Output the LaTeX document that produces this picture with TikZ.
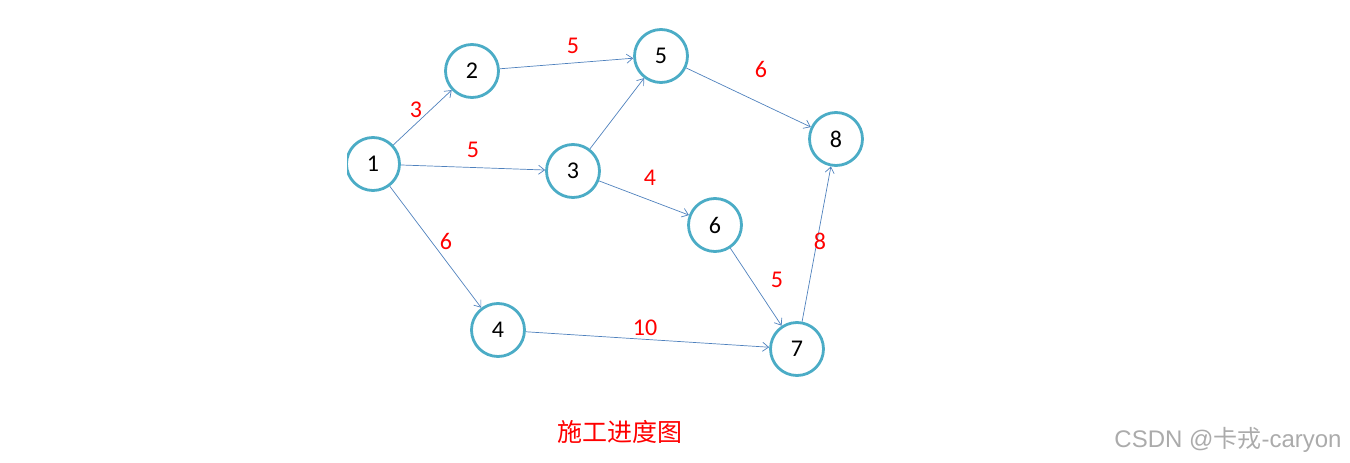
\documentclass[tikz,border=0pt]{standalone}
\usepackage{fontspec}
\setmainfont{Carlito}
\newfontfamily\cjkfont{Noto Sans CJK SC}
\newfontfamily\wmfont{Liberation Sans}
\usetikzlibrary{arrows.meta}
\definecolor{ringc}{RGB}{75,172,198}
\definecolor{edgec}{RGB}{79,129,189}
\begin{document}
\begin{tikzpicture}[x=1pt,y=-1pt,
  vtx/.style={circle,draw=ringc,line width=2.8pt,minimum size=53pt,inner sep=0pt,fill=white,font=\fontsize{24}{24}\selectfont},
  edg/.style={draw=edgec,line width=0.7pt,-{Straight Barb[length=6pt,width=9pt,line width=0.7pt]}},
  wt/.style={text=red,font=\fontsize{24}{24}\selectfont,inner sep=0pt}]
\useasboundingbox (0,0) rectangle (1350,463);
\begin{scope}
\clip (347,100) rectangle (420,230);
\node[vtx] (n1) at (373,164) {1};
\end{scope}
\node[vtx] (n2) at (472,71) {2};
\node[vtx] (n5) at (661,56) {5};
\node[vtx] (n3) at (573,171) {3};
\node[vtx] (n8) at (836,139) {8};
\node[vtx] (n6) at (715,225) {6};
\node[vtx] (n4) at (498,330) {4};
\node[vtx] (n7) at (797,349) {7};
\draw[edg] (n1) -- (n2);
\draw[edg] (n1) -- (n3);
\draw[edg] (n1) -- (n4);
\draw[edg] (n2) -- (n5);
\draw[edg] (n3) -- (n5);
\draw[edg] (n3) -- (n6);
\draw[edg] (n5) -- (n8);
\draw[edg] (n6) -- (n7);
\draw[edg] (n4) -- (n7);
\draw[edg] (n7) -- (n8);
\node[wt] (w12) at (416,110) {3};
\node[wt] (w13) at (473,150) {5};
\node[wt] (w25) at (573,46) {5};
\node[wt] (w58) at (761,69) {6};
\node[wt] (w36) at (650,178) {4};
\node[wt] (w14) at (446,241) {6};
\node[wt] (w78) at (820,241) {8};
\node[wt] (w67) at (777,280) {5};
\node[wt] (w47) at (645,328) {10};
\node[text=red,font=\cjkfont\fontsize{25}{25}\selectfont,inner sep=0pt] (title) at (620,432) {施工进度图};
\node[text=black!33,font=\wmfont\fontsize{24}{24}\selectfont,inner sep=0pt] (wm) at (1228,440) {CSDN @{\cjkfont 卡戎}-caryon};
\end{tikzpicture}
\end{document}
